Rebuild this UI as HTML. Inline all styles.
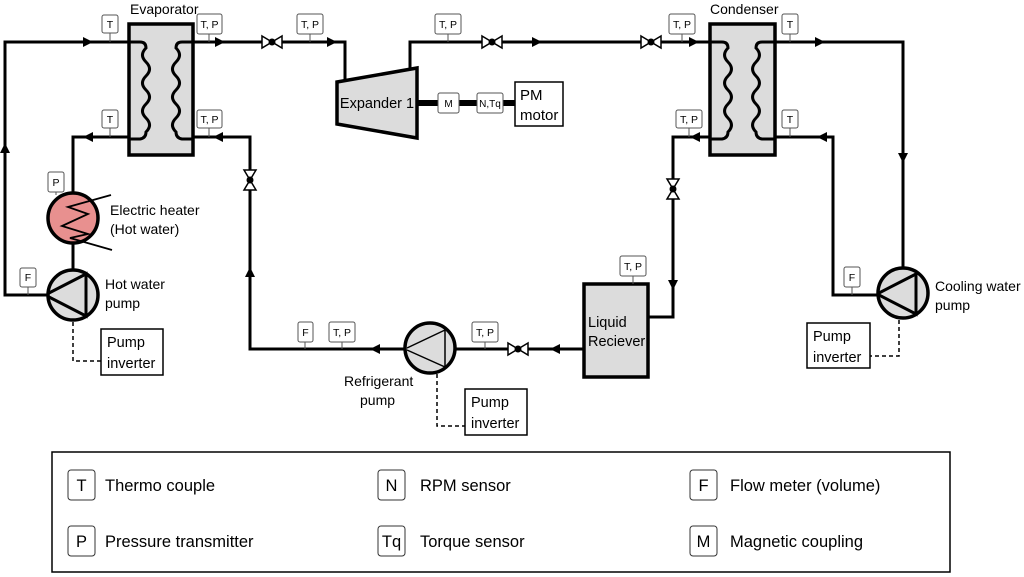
<!DOCTYPE html>
<html><head><meta charset="utf-8"><style>
html,body{margin:0;padding:0;background:#fff;}
svg{display:block;font-family:"Liberation Sans",Arial,sans-serif;}
</style></head><body>
<svg width="1024" height="577" viewBox="0 0 1024 577" xmlns="http://www.w3.org/2000/svg">
<defs>
<g id="vh"><polygon points="-10,-6 0,0 -10,6" fill="#fff" stroke="#000" stroke-width="1.5"/><polygon points="10,-6 0,0 10,6" fill="#fff" stroke="#000" stroke-width="1.5"/><circle r="3.5" fill="#000"/></g>
<g id="vv"><polygon points="-6,-10 0,0 6,-10" fill="#fff" stroke="#000" stroke-width="1.5"/><polygon points="-6,10 0,0 6,10" fill="#fff" stroke="#000" stroke-width="1.5"/><circle r="3.5" fill="#000"/></g>
<polygon id="ar" points="-5,-5 5,0 -5,5" fill="#000"/>
</defs>
<g fill="none" stroke="#000" stroke-width="3">
<polyline points="48,295 5,295 5,42 146,42"/>
<polyline points="146,137 73,137 73,194"/>
<line x1="73" y1="243" x2="73" y2="270"/>
<polyline points="176,42 345,42 345,80"/>
<polyline points="410,68 410,42 728,42"/>
<polyline points="756,42 903,42 903,268"/>
<polyline points="878,295 833,295 833,137 756,137"/>
<polyline points="728,137 673,137 673,317 648,317"/>
<polyline points="584,349 455,349"/>
<polyline points="405,349 250,349 250,137 176,137"/>
<line x1="417" y1="103" x2="515" y2="103" stroke-width="6"/>
</g>
<rect x="129" y="24" width="64" height="131" fill="#dcdcdc" stroke="#000" stroke-width="3.5"/>
<path d="M129,42 H140 q6,0 6,6 q-7,7 0,14 q7,7 0,14 q-7,7 0,14 q7,7 0,14 q-7,7 0,14 q7,7 0,14 q0,6 -6,7 H129" fill="none" stroke="#000" stroke-width="3"/>
<path d="M193,42 H182 q-6,0 -6,6 q7,7 0,14 q-7,7 0,14 q7,7 0,14 q-7,7 0,14 q7,7 0,14 q-7,7 0,14 q0,6 6,7 H193" fill="none" stroke="#000" stroke-width="3"/>
<rect x="710" y="24" width="65" height="131" fill="#dcdcdc" stroke="#000" stroke-width="3.5"/>
<path d="M710,42 H722 q6,0 6,6 q-7,7 0,14 q7,7 0,14 q-7,7 0,14 q7,7 0,14 q-7,7 0,14 q7,7 0,14 q0,6 -6,7 H710" fill="none" stroke="#000" stroke-width="3"/>
<path d="M775,42 H762 q-6,0 -6,6 q7,7 0,14 q-7,7 0,14 q7,7 0,14 q-7,7 0,14 q7,7 0,14 q-7,7 0,14 q0,6 6,7 H775" fill="none" stroke="#000" stroke-width="3"/>
<polygon points="337,82 417,68 417,138 337,124" fill="#dcdcdc" stroke="#000" stroke-width="3.5"/>
<text x="377" y="108" font-size="14.5" text-anchor="middle">Expander 1</text>
<rect x="438" y="93" width="21" height="20" rx="2" fill="#fff" stroke="#555"/><text x="448.5" y="107" font-size="10" text-anchor="middle">M</text>
<rect x="477" y="93" width="26" height="20" rx="2" fill="#fff" stroke="#555"/><text x="490" y="107" font-size="10" text-anchor="middle">N,Tq</text>
<rect x="515" y="82" width="48" height="44" fill="#fff" stroke="#000" stroke-width="1.5"/>
<text x="520" y="100" font-size="15">PM</text><text x="520" y="120" font-size="15">motor</text>
<rect x="584" y="284" width="64" height="93" fill="#dcdcdc" stroke="#000" stroke-width="3.5"/>
<text x="588" y="327" font-size="14.5">Liquid</text><text x="588" y="346" font-size="14.5">Reciever</text>
<circle cx="73" cy="218" r="25" fill="#e8908f" stroke="#000" stroke-width="3.5"/>
<polyline points="111,195 68,207 88,214 62,226 88,234 70,238 112,250" fill="none" stroke="#000" stroke-width="1.8"/>
<g stroke="#000" fill="#dcdcdc">
<circle cx="73" cy="295" r="25" stroke-width="3.5"/>
<polyline points="49,293 86,274 86,316 49,297" fill="none" stroke-width="3"/>
<circle cx="903" cy="293" r="25" stroke-width="3.5"/>
<polyline points="879,293 916,274 916,314 879,295" fill="none" stroke-width="3"/>
<circle cx="430" cy="348" r="25" stroke-width="3.5"/>
<polyline points="407,348 445,330 445,367 407,350" fill="none" stroke-width="1.5"/>
</g>
<g fill="none" stroke="#000" stroke-width="1.5" stroke-dasharray="4,3">
<polyline points="73,322 73,361 101,361"/>
<polyline points="437,374 437,426 465,426"/>
<polyline points="899,320 899,356 870,356"/>
</g>
<g fill="#fff" stroke="#000" stroke-width="1.5">
<rect x="101" y="329" width="62" height="46"/><rect x="465" y="389" width="62" height="46"/><rect x="807" y="323" width="63" height="45"/>
</g>
<g font-size="14.5">
<text x="107" y="347">Pump</text><text x="107" y="368">inverter</text>
<text x="471" y="407">Pump</text><text x="471" y="428">inverter</text>
<text x="813" y="341">Pump</text><text x="813" y="362">inverter</text>
<text x="130" y="14" font-size="14">Evaporator</text>
<text x="710" y="14" font-size="14">Condenser</text>
<text x="110" y="215" font-size="14">Electric heater</text><text x="110" y="234" font-size="14">(Hot water)</text>
<text x="105" y="289" font-size="14">Hot water</text><text x="105" y="308" font-size="14">pump</text>
<text x="344" y="386" font-size="14">Refrigerant</text><text x="360" y="405" font-size="14">pump</text>
<text x="935" y="291" font-size="14">Cooling water</text><text x="935" y="310" font-size="14">pump</text>
</g>
<use href="#vh" x="272" y="42"/><use href="#vh" x="492" y="42"/><use href="#vh" x="651" y="42"/><use href="#vh" x="518" y="349"/>
<use href="#vv" x="250" y="180"/><use href="#vv" x="673" y="189"/>
<use href="#ar" x="88" y="42"/><use href="#ar" x="220" y="42"/><use href="#ar" x="332" y="42"/><use href="#ar" x="537" y="42"/><use href="#ar" x="694" y="42"/><use href="#ar" x="820" y="42"/>
<use href="#ar" transform="translate(88,137) rotate(180)"/><use href="#ar" transform="translate(218,137) rotate(180)"/><use href="#ar" transform="translate(695,137) rotate(180)"/><use href="#ar" transform="translate(822,137) rotate(180)"/>
<use href="#ar" transform="translate(555,349) rotate(180)"/><use href="#ar" transform="translate(375,349) rotate(180)"/>
<use href="#ar" transform="translate(5,148) rotate(-90)"/><use href="#ar" transform="translate(250,272) rotate(-90)"/>
<use href="#ar" transform="translate(903,158) rotate(90)"/><use href="#ar" transform="translate(673,285) rotate(90)"/>
<g font-size="10.5" text-anchor="middle">
<g stroke="#555" stroke-width="1"><line x1="110" y1="33" x2="110" y2="42"/><line x1="209" y1="34" x2="209" y2="42"/><line x1="310" y1="34" x2="310" y2="42"/><line x1="448" y1="34" x2="448" y2="42"/><line x1="682" y1="34" x2="682" y2="42"/><line x1="790" y1="34" x2="790" y2="42"/>
<line x1="110" y1="128" x2="110" y2="137"/><line x1="209" y1="128" x2="209" y2="137"/><line x1="689" y1="128" x2="689" y2="137"/><line x1="790" y1="128" x2="790" y2="137"/>
<line x1="56" y1="192" x2="56" y2="195"/><line x1="28" y1="287" x2="28" y2="295"/><line x1="852" y1="287" x2="852" y2="295"/><line x1="633" y1="276" x2="633" y2="284"/>
<line x1="485" y1="342" x2="485" y2="349"/><line x1="305" y1="342" x2="305" y2="349"/><line x1="342" y1="342" x2="342" y2="349"/></g>
<g fill="#fff" stroke="#555" stroke-width="1">
<rect x="102" y="15" width="16" height="18" rx="2"/><rect x="197" y="14" width="25" height="20" rx="2"/><rect x="297" y="14" width="26" height="20" rx="2"/><rect x="435" y="14" width="26" height="20" rx="2"/><rect x="669" y="14" width="26" height="20" rx="2"/><rect x="782" y="14" width="16" height="20" rx="2"/>
<rect x="102" y="110" width="16" height="18" rx="2"/><rect x="197" y="110" width="25" height="18" rx="2"/><rect x="676" y="110" width="26" height="18" rx="2"/><rect x="782" y="110" width="16" height="18" rx="2"/>
<rect x="48" y="172" width="16" height="20" rx="2"/><rect x="20" y="268" width="16" height="19" rx="2"/><rect x="844" y="267" width="16" height="20" rx="2"/><rect x="620" y="256" width="26" height="20" rx="2"/>
<rect x="472" y="322" width="26" height="20" rx="2"/><rect x="298" y="322" width="15" height="20" rx="2"/><rect x="329" y="322" width="26" height="20" rx="2"/></g>
<text x="110" y="28">T</text><text x="209.5" y="28">T, P</text><text x="310" y="28">T, P</text><text x="448" y="28">T, P</text><text x="682" y="28">T, P</text><text x="790" y="28">T</text>
<text x="110" y="123">T</text><text x="209.5" y="123">T, P</text><text x="689" y="123">T, P</text><text x="790" y="123">T</text>
<text x="56" y="186">P</text><text x="28" y="281">F</text><text x="852" y="281">F</text><text x="633" y="270">T, P</text>
<text x="485" y="336">T, P</text><text x="305.5" y="336">F</text><text x="342" y="336">T, P</text>
</g>
<rect x="52" y="452" width="898" height="120" fill="#fff" stroke="#000" stroke-width="1.5"/>
<g fill="#fff" stroke="#333" stroke-width="1">
<rect x="68" y="470" width="27" height="30" rx="3"/><rect x="68" y="526" width="27" height="30" rx="3"/>
<rect x="378" y="470" width="27" height="30" rx="3"/><rect x="378" y="526" width="27" height="30" rx="3"/>
<rect x="690" y="470" width="27" height="30" rx="3"/><rect x="690" y="526" width="27" height="30" rx="3"/>
</g>
<g font-size="16.5" text-anchor="middle">
<text x="81.5" y="491">T</text><text x="81.5" y="547">P</text><text x="391.5" y="491">N</text><text x="391.5" y="547">Tq</text><text x="703.5" y="491">F</text><text x="703.5" y="547">M</text>
</g>
<g font-size="16.5">
<text x="105" y="491">Thermo couple</text><text x="105" y="547">Pressure transmitter</text>
<text x="420" y="491">RPM sensor</text><text x="420" y="547">Torque sensor</text>
<text x="730" y="491">Flow meter (volume)</text><text x="730" y="547">Magnetic coupling</text>
</g>
</svg>
</body></html>
